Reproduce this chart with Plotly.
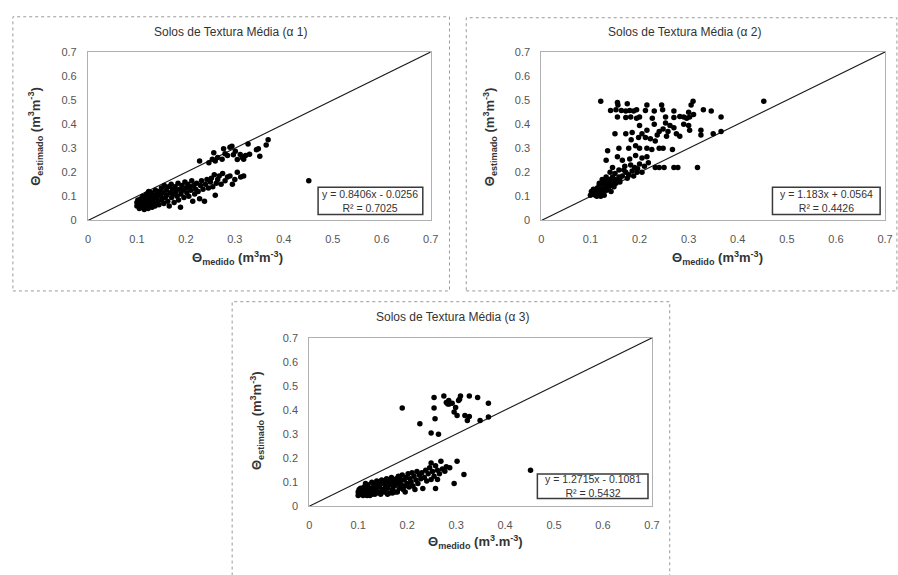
import plotly.graph_objects as go

W, H = 898, 575

# ---------------- data ----------------
titles = ["Solos de Textura Média (α 1)", "Solos de Textura Média (α 2)", "Solos de Textura Média (α 3)"]
equations = ["y = 0.8406x - 0.0256<br>R² = 0.7025",
             "y = 1.183x + 0.0564<br>R² = 0.4426",
             "y = 1.2715x - 0.1081<br>R² = 0.5432"]
xtitles = ["<b>Θ<sub>medido</sub> (m<sup>3</sup>m<sup>-3</sup>)</b>",
           "<b>Θ<sub>medido</sub> (m<sup>3</sup>m<sup>-3</sup>)</b>",
           "<b>Θ<sub>medido</sub> (m<sup>3</sup>.m<sup>-3</sup>)</b>"]
ytitle = "<b>Θ<sub>estimado</sub> (m<sup>3</sup>m<sup>-3</sup>)</b>"
tick_vals = [0, 0.1, 0.2, 0.3, 0.4, 0.5, 0.6, 0.7]
tick_text = ["0", "0.1", "0.2", "0.3", "0.4", "0.5", "0.6", "0.7"]
line_x = [0, 0.7]
line_y = [0, 0.7]

p1 = [(0.100,0.060),(0.100,0.075),(0.102,0.085),(0.104,0.065),(0.105,0.050),(0.107,0.070),(0.108,0.090),
      (0.110,0.055),(0.110,0.080),(0.112,0.100),(0.113,0.065),(0.115,0.045),(0.116,0.085),(0.118,0.075),
      (0.120,0.095),(0.120,0.110),(0.121,0.060),(0.123,0.050),(0.124,0.120),(0.125,0.085),(0.126,0.100),
      (0.128,0.070),(0.130,0.115),(0.131,0.055),(0.132,0.090),(0.134,0.105),(0.135,0.075),(0.137,0.060),
      (0.138,0.125),(0.140,0.095),(0.141,0.110),(0.143,0.080),(0.145,0.065),(0.146,0.120),(0.148,0.100),
      (0.150,0.135),(0.151,0.085),(0.153,0.115),(0.155,0.070),(0.156,0.145),(0.158,0.095),(0.160,0.125),
      (0.161,0.105),(0.163,0.080),(0.165,0.140),(0.166,0.060),(0.168,0.115),(0.170,0.150),(0.171,0.095),
      (0.173,0.130),(0.175,0.110),(0.176,0.075),(0.178,0.140),(0.180,0.120),(0.182,0.100),(0.184,0.155),
      (0.185,0.085),(0.187,0.130),(0.189,0.055),(0.190,0.110),(0.192,0.145),(0.194,0.125),(0.196,0.095),
      (0.198,0.160),(0.200,0.135),(0.202,0.115),(0.204,0.150),(0.206,0.100),(0.208,0.140),(0.210,0.125),
      (0.212,0.165),(0.214,0.080),(0.216,0.145),(0.218,0.110),(0.220,0.130),(0.222,0.155),(0.225,0.120),
      (0.228,0.090),(0.230,0.145),(0.232,0.165),(0.235,0.130),(0.238,0.080),(0.240,0.150),(0.243,0.170),
      (0.246,0.135),(0.250,0.160),(0.252,0.175),(0.255,0.140),(0.258,0.190),(0.260,0.105),(0.262,0.155),
      (0.265,0.170),(0.268,0.185),(0.272,0.150),(0.275,0.195),(0.280,0.165),(0.285,0.180),(0.290,0.185),
      (0.295,0.150),(0.300,0.170),(0.305,0.200),(0.312,0.180),(0.318,0.185),
      (0.228,0.247),(0.247,0.240),(0.254,0.254),(0.257,0.281),(0.260,0.247),(0.265,0.262),(0.274,0.254),
      (0.277,0.298),(0.280,0.277),(0.285,0.270),(0.290,0.304),(0.294,0.308),(0.297,0.273),(0.301,0.288),
      (0.305,0.253),(0.311,0.274),(0.315,0.262),(0.318,0.254),(0.322,0.270),(0.327,0.318),(0.330,0.275),
      (0.344,0.294),(0.348,0.298),(0.351,0.267),(0.364,0.314),(0.368,0.335),(0.451,0.165)]

p2 = [(0.121,0.495),(0.155,0.490),(0.156,0.480),(0.175,0.485),(0.215,0.480),(0.309,0.495),(0.305,0.480),
      (0.453,0.495),(0.245,0.480),
      (0.141,0.457),(0.152,0.460),(0.163,0.457),(0.172,0.455),(0.180,0.457),(0.188,0.455),(0.194,0.460),
      (0.212,0.457),(0.230,0.455),(0.247,0.460),(0.270,0.455),(0.300,0.450),(0.330,0.460),(0.346,0.455),
      (0.155,0.430),(0.172,0.428),(0.182,0.430),(0.194,0.425),(0.200,0.430),(0.226,0.425),(0.253,0.430),
      (0.270,0.428),(0.282,0.432),(0.290,0.430),(0.296,0.425),(0.302,0.430),(0.310,0.440),(0.366,0.430),
      (0.200,0.395),(0.230,0.400),(0.253,0.405),(0.262,0.395),(0.290,0.400),(0.270,0.385),(0.248,0.380),
      (0.300,0.395),
      (0.150,0.360),(0.172,0.360),(0.185,0.365),(0.205,0.360),(0.215,0.375),(0.240,0.370),(0.258,0.370),
      (0.275,0.360),(0.302,0.375),(0.325,0.375),(0.325,0.355),(0.350,0.360),(0.366,0.370),(0.236,0.355),
      (0.255,0.350),(0.282,0.350),
      (0.183,0.335),(0.198,0.345),(0.212,0.345),(0.232,0.330),(0.222,0.340),
      (0.135,0.290),(0.158,0.300),(0.178,0.300),(0.192,0.310),(0.200,0.300),(0.215,0.300),(0.225,0.295),
      (0.240,0.300),(0.248,0.300),(0.267,0.295),
      (0.132,0.250),(0.165,0.250),(0.180,0.255),(0.205,0.260),(0.192,0.270),(0.215,0.265),(0.155,0.265),
      (0.145,0.220),(0.170,0.225),(0.182,0.230),(0.190,0.220),(0.200,0.235),(0.210,0.225),(0.218,0.240),
      (0.232,0.220),(0.240,0.220),(0.250,0.220),(0.270,0.220),(0.278,0.220),(0.318,0.220),(0.196,0.215),
      (0.140,0.200),(0.150,0.195),(0.158,0.210),(0.165,0.185),(0.172,0.200),(0.178,0.190),(0.185,0.205),
      (0.195,0.200),(0.145,0.180),(0.160,0.175),(0.175,0.175),(0.188,0.185),(0.205,0.200),(0.168,0.210),
      (0.100,0.105),(0.102,0.120),(0.104,0.110),(0.106,0.130),(0.108,0.115),(0.110,0.105),(0.112,0.125),
      (0.114,0.135),(0.116,0.110),(0.118,0.145),(0.120,0.120),(0.121,0.100),(0.123,0.130),(0.125,0.155),
      (0.127,0.115),(0.129,0.140),(0.131,0.165),(0.133,0.125),(0.135,0.150),(0.137,0.135),(0.139,0.170),
      (0.141,0.145),(0.143,0.155),(0.145,0.160),(0.148,0.140),(0.150,0.170),(0.152,0.155),(0.155,0.165),
      (0.158,0.180),(0.160,0.160),(0.142,0.120),(0.128,0.105),(0.113,0.100),(0.118,0.155),(0.124,0.170),
      (0.132,0.180)]

p3 = [(0.100,0.045),(0.100,0.060),(0.102,0.070),(0.104,0.050),(0.106,0.055),(0.108,0.065),(0.110,0.045),
      (0.112,0.080),(0.114,0.060),(0.116,0.050),(0.118,0.070),(0.120,0.090),(0.122,0.055),(0.124,0.045),
      (0.126,0.075),(0.128,0.100),(0.130,0.060),(0.132,0.085),(0.134,0.050),(0.136,0.070),(0.138,0.105),
      (0.140,0.090),(0.142,0.060),(0.144,0.080),(0.146,0.050),(0.148,0.110),(0.150,0.070),(0.152,0.095),
      (0.154,0.060),(0.156,0.085),(0.158,0.115),(0.160,0.075),(0.162,0.100),(0.164,0.055),(0.166,0.090),
      (0.168,0.120),(0.170,0.070),(0.172,0.105),(0.174,0.085),(0.176,0.060),(0.178,0.115),(0.180,0.095),
      (0.182,0.125),(0.184,0.075),(0.186,0.105),(0.188,0.090),(0.190,0.130),(0.192,0.070),(0.194,0.110),
      (0.196,0.060),(0.198,0.120),(0.200,0.095),(0.202,0.135),(0.204,0.080),(0.206,0.115),(0.208,0.100),
      (0.210,0.140),(0.212,0.085),(0.214,0.125),(0.216,0.070),(0.218,0.110),(0.220,0.145),(0.222,0.095),
      (0.225,0.130),(0.228,0.115),(0.230,0.140),(0.232,0.074),(0.235,0.120),(0.238,0.150),(0.240,0.105),
      (0.243,0.135),(0.246,0.160),(0.249,0.112),(0.249,0.180),(0.252,0.145),(0.255,0.125),(0.258,0.169),
      (0.258,0.074),(0.262,0.112),(0.262,0.150),(0.266,0.135),(0.269,0.187),(0.272,0.155),(0.277,0.146),
      (0.280,0.165),(0.287,0.160),(0.296,0.095),(0.302,0.187),(0.316,0.132),(0.452,0.150),
      (0.105,0.075),(0.115,0.095),(0.125,0.065),(0.135,0.095),(0.145,0.100),(0.155,0.105),(0.165,0.110),
      (0.175,0.095),(0.185,0.115),(0.195,0.085),(0.108,0.050),(0.118,0.045),(0.128,0.050),(0.138,0.055),
      (0.148,0.060),(0.160,0.050),(0.170,0.055),(0.180,0.060),
      (0.190,0.409),(0.226,0.343),(0.249,0.305),(0.255,0.452),(0.255,0.409),(0.257,0.364),(0.264,0.300),
      (0.275,0.459),(0.280,0.432),(0.283,0.425),(0.286,0.425),(0.292,0.428),(0.296,0.392),(0.299,0.411),
      (0.302,0.378),(0.305,0.440),(0.307,0.445),(0.309,0.459),(0.318,0.378),(0.323,0.357),(0.327,0.373),
      (0.327,0.459),(0.344,0.452),(0.349,0.357),(0.366,0.371),(0.366,0.428),(0.285,0.440)]

series = [p1, p2, p3]

# ---------------- layout helpers (pixel -> paper) ----------------
def px(x):
    return x / W

def py(y):
    return 1 - y / H

FONT = "Liberation Sans, Arial, sans-serif"
TXT = "#333333"

# plot areas in pixels: (left, right, top, bottom)
areas = [(86, 433, 47, 219), (545, 893, 47, 219), (310, 657, 339, 511)]
# outer dotted frames
frames = [(10, 452, 11, 291), (469, 905, 12, 291), (232, 675, 302, 590)]
title_pos = [(230, 27), (690, 27), (455, 318)]
xtitle_pos = [(237, 257), (723, 257), (478, 547)]
ytitle_pos = [(33, 133), (493, 133), (257, 423)]
eq_box = [(319, 425, 185, 213), (779, 888, 185, 213), (541, 653, 478, 503)]

fig = go.Figure()
shapes = []
annotations = []

for i, pts in enumerate(series):
    xa = "x" if i == 0 else f"x{i+1}"
    ya = "y" if i == 0 else f"y{i+1}"
    xs = [p[0] for p in pts]
    ys = [p[1] for p in pts]
    fig.add_trace(go.Scatter(x=line_x, y=line_y, mode="lines", xaxis=xa, yaxis=ya,
                             line=dict(color="#1a1a1a", width=1.2), showlegend=False, hoverinfo="skip"))
    fig.add_trace(go.Scatter(x=xs, y=ys, mode="markers", xaxis=xa, yaxis=ya,
                             marker=dict(color="black", size=5.5, line=dict(width=0)), showlegend=False))

    l, r, t, b = areas[i]
    axis_common = dict(range=[0, 0.7], tickvals=tick_vals, ticktext=tick_text, showgrid=False,
                       zeroline=False, showline=True, linecolor="#b0b0b0", linewidth=1, mirror=True,
                       ticks="", tickfont=dict(family=FONT, size=11, color="#555555"), fixedrange=True)
    key_x = "xaxis" if i == 0 else f"xaxis{i+1}"
    key_y = "yaxis" if i == 0 else f"yaxis{i+1}"
    fig.update_layout(**{
        key_x: dict(domain=[px(l), px(r)], anchor=ya, ticklabelstandoff=8, **axis_common),
        key_y: dict(domain=[py(b), py(t)], anchor=xa, ticklabelstandoff=8, **axis_common),
    })

    fx0, fx1, fy0, fy1 = frames[i]
    shapes.append(dict(type="rect", xref="paper", yref="paper", x0=px(fx0), x1=px(fx1),
                       y0=py(fy1), y1=py(fy0), line=dict(color="#9a9a9a", width=1, dash="dot"),
                       fillcolor="rgba(0,0,0,0)", layer="below"))
    ex0, ex1, ey0, ey1 = eq_box[i]
    shapes.append(dict(type="rect", xref="paper", yref="paper", x0=px(ex0), x1=px(ex1),
                       y0=py(ey1), y1=py(ey0), line=dict(color="#3a3a3a", width=1.5),
                       fillcolor="white"))
    annotations.append(dict(x=px((ex0 + ex1) / 2), y=py((ey0 + ey1) / 2), xref="paper", yref="paper",
                            text=equations[i], showarrow=False, xanchor="center", yanchor="middle",
                            font=dict(family=FONT, size=10.5, color=TXT), align="center"))

    tx, ty = title_pos[i]
    annotations.append(dict(x=px(tx), y=py(ty), xref="paper", yref="paper", text=titles[i],
                            showarrow=False, xanchor="center", yanchor="middle",
                            font=dict(family=FONT, size=12, color=TXT)))
    xx, xy = xtitle_pos[i]
    annotations.append(dict(x=px(xx), y=py(xy), xref="paper", yref="paper", text=xtitles[i],
                            showarrow=False, xanchor="center", yanchor="middle",
                            font=dict(family=FONT, size=13, color=TXT)))
    yx, yy = ytitle_pos[i]
    annotations.append(dict(x=px(yx), y=py(yy), xref="paper", yref="paper", text=ytitle,
                            showarrow=False, xanchor="center", yanchor="middle", textangle=-90,
                            font=dict(family=FONT, size=13, color=TXT)))

fig.update_layout(width=W, height=H, margin=dict(l=0, r=0, t=0, b=0),
                  paper_bgcolor="white", plot_bgcolor="white",
                  shapes=shapes, annotations=annotations, showlegend=False)

fig.write_html("out.html", config={"displayModeBar": False},
               post_script="document.body.style.margin='0';document.body.style.overflow='hidden';")
